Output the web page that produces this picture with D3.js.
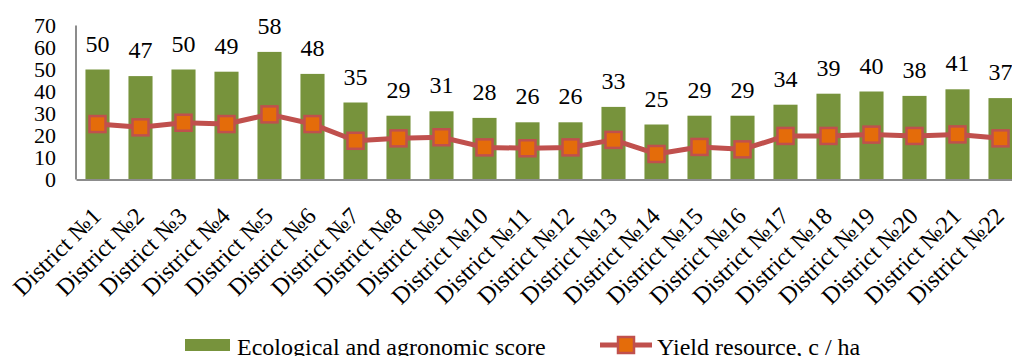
<!DOCTYPE html>
<html>
<head>
<meta charset="utf-8">
<script src="https://cdn.jsdelivr.net/npm/d3@7"></script>
<style>
  html, body { margin: 0; padding: 0; background: #fff; }
  svg { display: block; }
  svg text { font-family: "Liberation Serif", "Times New Roman", "DejaVu Serif", serif; }
</style>
</head>
<body>
<svg id="chart" width="1012" height="356"></svg>
<script>
// District names along the x axis
const districts = d3.range(1, 23).map(i => "District №" + i);
// Ecological and agronomic score (bars)
const scores = [50, 47, 50, 49, 58, 48, 35, 29, 31, 28, 26, 26, 33, 25, 29, 29, 34, 39, 40, 38, 41, 37];
// Yield resource, c / ha (line)
const yields = [25.2, 23.7, 25.8, 25.2, 29.6, 25.2, 17.6, 18.7, 19.2, 14.6, 14.2, 14.6, 18.0, 11.6, 14.8, 13.7, 19.8, 19.8, 20.4, 19.8, 20.5, 18.7];
// Value axis ticks
const yTicks = [0, 10, 20, 30, 40, 50, 60, 70];

const barColor = "#77933c";
const lineColor = "#c0504d";
const markerFill = "#e46c0a";
const axisColor = "#8c8c8c";

const svg = d3.select("#chart");

const x = d3.scaleBand()
  .domain(districts)
  .range([76, 1022])
  .paddingInner(0.44)
  .paddingOuter(0.22);

const y = d3.scaleLinear()
  .domain([0, 70])
  .range([179.5, 25.5]);

// Bars
svg.append("g")
  .selectAll("rect")
  .data(scores)
  .join("rect")
  .attr("x", (d, i) => x(districts[i]))
  .attr("y", d => y(d))
  .attr("width", x.bandwidth())
  .attr("height", d => y(0) - y(d))
  .attr("fill", barColor);

// Value labels above bars
svg.append("g")
  .selectAll("text")
  .data(scores)
  .join("text")
  .attr("x", (d, i) => x(districts[i]) + x.bandwidth() / 2)
  .attr("y", d => y(d) - 18)
  .attr("text-anchor", "middle")
  .attr("font-size", 24)
  .attr("fill", "#000")
  .text(d => d);

// Y axis
const yAxis = d3.axisLeft(y).tickValues(yTicks).tickSize(0).tickPadding(0);
const gy = svg.append("g")
  .attr("transform", "translate(56,0)")
  .call(yAxis);
gy.attr("font-family", null);
gy.select(".domain").remove();
gy.selectAll("text")
  .attr("font-size", 22)
  .attr("fill", "#000");

svg.append("line")
  .attr("x1", 76).attr("x2", 76)
  .attr("y1", y(70)).attr("y2", y(0))
  .attr("stroke", axisColor).attr("stroke-width", 2);

// X axis
const xAxis = d3.axisBottom(x).tickSize(0).tickPadding(0);
const gx = svg.append("g")
  .attr("transform", `translate(0,${y(0)})`)
  .call(xAxis);
gx.attr("font-family", null);
gx.select(".domain").attr("stroke", axisColor).attr("stroke-width", 2);
gx.selectAll("text")
  .attr("font-size", 24)
  .attr("fill", "#000")
  .attr("text-anchor", "end")
  .attr("dy", 0)
  .attr("y", 0)
  .attr("transform", "translate(5,38) rotate(-45)");

// Yield line
const line = d3.line()
  .x((d, i) => x(districts[i]) + x.bandwidth() / 2)
  .y(d => y(d));

svg.append("path")
  .datum(yields)
  .attr("d", line)
  .attr("fill", "none")
  .attr("stroke", lineColor)
  .attr("stroke-width", 5)
  .attr("stroke-linejoin", "round");

const m = 16;
svg.append("g")
  .selectAll("rect")
  .data(yields)
  .join("rect")
  .attr("x", (d, i) => x(districts[i]) + x.bandwidth() / 2 - m / 2)
  .attr("y", d => y(d) - m / 2)
  .attr("width", m)
  .attr("height", m)
  .attr("fill", markerFill)
  .attr("stroke", lineColor)
  .attr("stroke-width", 2.5);

// Legend
const legend = svg.append("g").attr("font-size", 24).attr("fill", "#000");
legend.append("rect")
  .attr("x", 185).attr("y", 339).attr("width", 45).attr("height", 12)
  .attr("fill", barColor);
legend.append("text")
  .attr("x", 237).attr("y", 355)
  .text("Ecological and agronomic score");
legend.append("line")
  .attr("x1", 600).attr("x2", 652).attr("y1", 345).attr("y2", 345)
  .attr("stroke", lineColor).attr("stroke-width", 5);
legend.append("rect")
  .attr("x", 626 - m / 2).attr("y", 345 - m / 2).attr("width", m).attr("height", m)
  .attr("fill", markerFill).attr("stroke", lineColor).attr("stroke-width", 2.5);
legend.append("text")
  .attr("x", 657).attr("y", 355)
  .text("Yield resource, c / ha");
</script>
</body>
</html>
